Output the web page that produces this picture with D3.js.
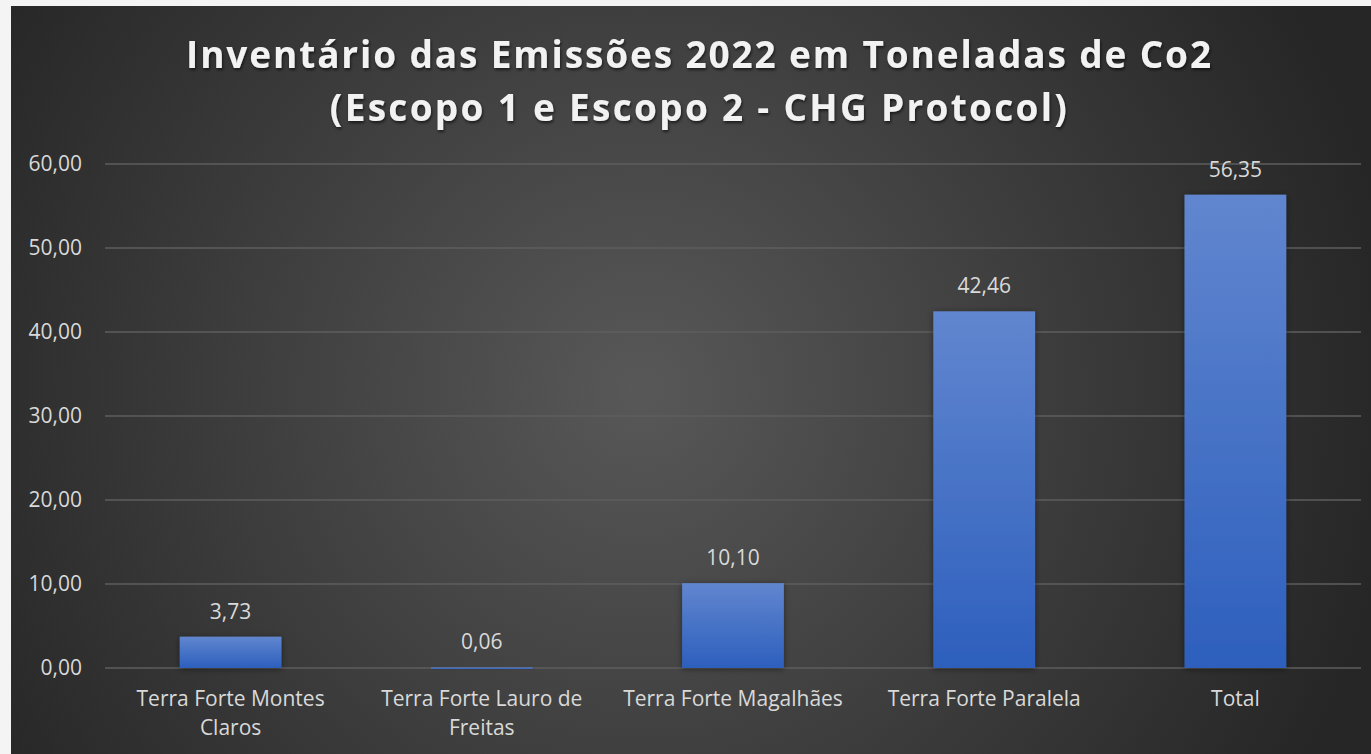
<!DOCTYPE html>
<html>
<head>
<meta charset="utf-8">
<script src="https://cdn.jsdelivr.net/npm/d3@7"></script>
<style>
  html, body { margin: 0; padding: 0; background: #f4f4f4; }
  svg { display: block; }
  text { font-family: "Open Sans", sans-serif; }
</style>
</head>
<body>
<script>
// dados do gráfico
const categorias = ["Terra Forte Montes Claros", "Terra Forte Lauro de Freitas", "Terra Forte Magalhães", "Terra Forte Paralela", "Total"];
const emissoes = [3.73, 0.06, 10.10, 42.46, 56.35];
const ticksY = [0, 10, 20, 30, 40, 50, 60];
const titulo = ["Inventário das Emissões 2022 em Toneladas de Co2", "(Escopo 1 e Escopo 2 - CHG Protocol)"];

const w = 1371, h = 754;
const plotLeft = 105, plotRight = 1361, plotTop = 164, plotBottom = 668;

const fmt = v => v.toFixed(2).replace(".", ",");

const svg = d3.select("body").append("svg")
  .attr("width", w)
  .attr("height", h);

const defs = svg.append("defs");

const bg = defs.append("radialGradient")
  .attr("id", "bg")
  .attr("gradientUnits", "userSpaceOnUse")
  .attr("cx", 640).attr("cy", 390).attr("r", 760);
bg.append("stop").attr("offset", "0").attr("stop-color", "#585858");
bg.append("stop").attr("offset", "0.55").attr("stop-color", "#3c3c3c");
bg.append("stop").attr("offset", "1").attr("stop-color", "#262626");

const barGrad = defs.append("linearGradient")
  .attr("id", "barra")
  .attr("x1", 0).attr("y1", 0).attr("x2", 0).attr("y2", 1);
barGrad.append("stop").attr("offset", "0").attr("stop-color", "#6186cf");
barGrad.append("stop").attr("offset", "1").attr("stop-color", "#2d5fbd");

const sombra = defs.append("filter")
  .attr("id", "sombra")
  .attr("x", "-20%").attr("y", "-20%").attr("width", "140%").attr("height", "140%");
sombra.append("feDropShadow")
  .attr("dx", 0).attr("dy", 1).attr("stdDeviation", 3)
  .attr("flood-color", "#000").attr("flood-opacity", 0.45);

const tituloSombra = defs.append("filter").attr("id", "tsombra");
tituloSombra.append("feDropShadow")
  .attr("dx", 1).attr("dy", 2).attr("stdDeviation", 1.5)
  .attr("flood-color", "#000").attr("flood-opacity", 0.6);

// fundo
svg.append("rect")
  .attr("x", 11).attr("y", 6)
  .attr("width", w - 11).attr("height", h - 6)
  .attr("fill", "url(#bg)");

const x = d3.scaleBand()
  .domain(categorias)
  .range([plotLeft, plotRight])
  .paddingInner(0.595)
  .paddingOuter(0.2975);

const y = d3.scaleLinear()
  .domain([0, 60])
  .range([plotBottom, plotTop]);

// grade
svg.append("g")
  .selectAll("line")
  .data(ticksY)
  .join("line")
  .attr("x1", plotLeft).attr("x2", plotRight)
  .attr("y1", d => y(d)).attr("y2", d => y(d))
  .attr("stroke", "#5e5e5e")
  .attr("stroke-width", 1.5);

// eixo y
const yAxis = d3.axisLeft(y).tickValues(ticksY).tickFormat(fmt).tickSize(0).tickPadding(0);
svg.append("g")
  .attr("transform", "translate(82,0)")
  .call(yAxis)
  .call(g => g.select(".domain").remove())
  .selectAll("text")
  .attr("fill", "#d9d9d9")
  .style("font-size", "21px")
  .style("font-family", "'Open Sans', sans-serif");

// barras
svg.append("g")
  .selectAll("rect")
  .data(emissoes)
  .join("rect")
  .attr("x", (d, i) => x(categorias[i]))
  .attr("y", d => y(d))
  .attr("width", x.bandwidth())
  .attr("height", d => Math.max(plotBottom - y(d), 1.5))
  .attr("fill", "url(#barra)")
  .attr("filter", "url(#sombra)");

// rótulos de valor
svg.append("g")
  .selectAll("text")
  .data(emissoes)
  .join("text")
  .attr("x", (d, i) => x(categorias[i]) + x.bandwidth() / 2)
  .attr("y", d => y(d) - 18)
  .attr("text-anchor", "middle")
  .attr("fill", "#d9d9d9")
  .style("font-size", "21px")
  .text(fmt);

// eixo x com quebra de linha
const xAxis = d3.axisBottom(x).tickSize(0).tickFormat("");
svg.append("g")
  .attr("transform", `translate(0,${plotBottom})`)
  .call(xAxis)
  .call(g => g.select(".domain").remove());

const rotulos = svg.append("g");
categorias.forEach(c => {
  const cx = x(c) + x.bandwidth() / 2;
  const t = rotulos.append("text")
    .attr("x", cx)
    .attr("y", 706)
    .attr("text-anchor", "middle")
    .attr("fill", "#d9d9d9")
    .style("font-size", "21px");
  const palavras = c.split(" ");
  let linha = [];
  let ts = t.append("tspan").attr("x", cx).attr("dy", 0);
  palavras.forEach(p => {
    linha.push(p);
    ts.text(linha.join(" "));
    if (ts.node().getComputedTextLength() > 236 && linha.length > 1) {
      linha.pop();
      ts.text(linha.join(" "));
      linha = [p];
      ts = t.append("tspan").attr("x", cx).attr("dy", 29).text(p);
    }
  });
});

// título
const larguras = [1025, 737];
titulo.forEach((linha, i) => {
  const t = svg.append("text")
    .attr("x", 699.5)
    .attr("y", i === 0 ? 68 : 121)
    .attr("text-anchor", "middle")
    .attr("fill", "#f2f2f2")
    .attr("filter", "url(#tsombra)")
    .style("font-size", "37px")
    .style("font-weight", "bold")
    .text(linha);
  const largura = t.node().getComputedTextLength();
  const esp = (larguras[i] - largura) / (linha.length - 1);
  t.style("letter-spacing", esp + "px");
});
</script>
</body>
</html>
